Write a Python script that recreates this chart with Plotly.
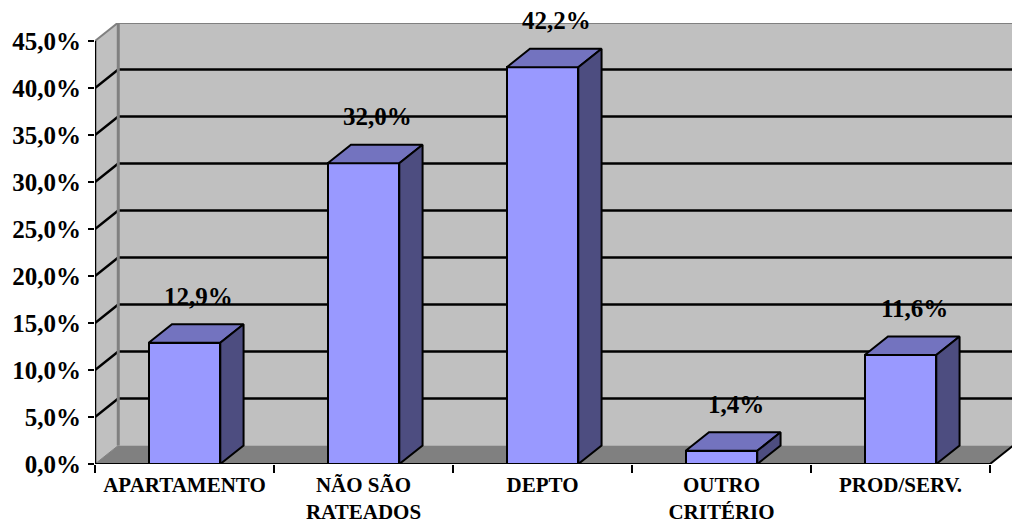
import plotly.graph_objects as go

categories = ["APARTAMENTO", "NÃO SÃO<br>RATEADOS", "DEPTO", "OUTRO<br>CRITÉRIO", "PROD/SERV."]
values = [12.9, 32.0, 42.2, 1.4, 11.6]
value_labels = ["12,9%", "32,0%", "42,2%", "1,4%", "11,6%"]
y_ticks = [0, 5, 10, 15, 20, 25, 30, 35, 40, 45]
y_ticklabels = ["0,0%", "5,0%", "10,0%", "15,0%", "20,0%", "25,0%", "30,0%", "35,0%", "40,0%", "45,0%"]

FONT = "Liberation Serif"
FRONT = "#9999FF"
TOP = "#7373BF"
SIDE = "#4D4D80"
WALL = "#C0C0C0"
FLOOR = "#808080"

n = len(categories)
DX = 0.13      # depth offset in category units
DY = 1.97      # depth offset in percent units
HW = 0.2       # bar half width
YMAX = 45
x0, x1 = -0.5, n - 0.5

fig = go.Figure()
shapes = []

def poly(pts):
    return "M " + " L ".join(f"{x},{y}" for x, y in pts) + " Z"

# back wall
shapes.append(dict(type="path", xref="x", yref="y", layer="below",
                   path=poly([(x0 + DX, DY), (x1 + DX, DY), (x1 + DX, YMAX + DY), (x0 + DX, YMAX + DY)]),
                   fillcolor=WALL, line=dict(width=0)))
# left wall
shapes.append(dict(type="path", xref="x", yref="y", layer="below",
                   path=poly([(x0, 0), (x0 + DX, DY), (x0 + DX, YMAX + DY), (x0, YMAX)]),
                   fillcolor=WALL, line=dict(width=0)))
# floor
shapes.append(dict(type="path", xref="x", yref="y", layer="below",
                   path=poly([(x0, 0), (x1, 0), (x1 + DX, DY), (x0 + DX, DY)]),
                   fillcolor=FLOOR, line=dict(width=0)))
# gridlines
for v in y_ticks[1:-1]:
    shapes.append(dict(type="line", xref="x", yref="y", layer="below",
                       x0=x0 + DX, y0=v + DY, x1=x1 + DX, y1=v + DY,
                       line=dict(color="black", width=2.5)))
    shapes.append(dict(type="line", xref="x", yref="y", layer="below",
                       x0=x0, y0=v, x1=x0 + DX, y1=v + DY,
                       line=dict(color="black", width=2.5)))
# wall edges (gray)
shapes.append(dict(type="line", xref="x", yref="y", layer="below",
                   x0=x0 + DX, y0=DY, x1=x0 + DX, y1=YMAX + DY, line=dict(color=FLOOR, width=3)))
shapes.append(dict(type="line", xref="x", yref="y", layer="below",
                   x0=x0 + DX, y0=YMAX + DY, x1=x1 + DX + 0.05, y1=YMAX + DY, line=dict(color=FLOOR, width=3)))
shapes.append(dict(type="line", xref="x", yref="y", layer="below",
                   x0=x0, y0=YMAX, x1=x0 + DX, y1=YMAX + DY, line=dict(color=FLOOR, width=2)))
shapes.append(dict(type="line", xref="x", yref="y", layer="below",
                   x0=x0, y0=0, x1=x0 + DX, y1=DY, line=dict(color=FLOOR, width=1)))
# front axis lines
shapes.append(dict(type="line", xref="x", yref="y", layer="above",
                   x0=x0, y0=0, x1=x1, y1=0, line=dict(color="black", width=2)))
shapes.append(dict(type="line", xref="x", yref="y", layer="above",
                   x0=x1, y0=0, x1=x1 + DX, y1=DY, line=dict(color="black", width=2)))
shapes.append(dict(type="line", xref="x", yref="y", layer="above",
                   x0=x0, y0=0, x1=x0, y1=YMAX, line=dict(color="black", width=2.5)))

# bars: front faces
xs = list(range(n))
fig.add_trace(go.Bar(x=xs, y=values, width=2 * HW, marker=dict(color=FRONT, line=dict(color="black", width=2)),
                     hoverinfo="skip", showlegend=False))
# top and side faces
for i, v in enumerate(values):
    top = [(i - HW, v), (i + HW, v), (i + HW + DX, v + DY), (i - HW + DX, v + DY), (i - HW, v)]
    side = [(i + HW, 0), (i + HW + DX, DY), (i + HW + DX, v + DY), (i + HW, v), (i + HW, 0)]
    for pts, col in ((top, TOP), (side, SIDE)):
        fig.add_trace(go.Scatter(x=[p[0] for p in pts], y=[p[1] for p in pts], mode="lines",
                                 fill="toself", fillcolor=col, line=dict(color="black", width=2),
                                 hoverinfo="skip", showlegend=False, cliponaxis=False))

annotations = []
for i, (v, lab) in enumerate(zip(values, value_labels)):
    annotations.append(dict(x=i + 0.08, y=v + DY, xref="x", yref="y", text=lab,
                            showarrow=False, yshift=28, yanchor="middle",
                            font=dict(family=FONT, size=25, color="black", weight="bold")))

fig.update_layout(
    width=1012, height=524,
    margin=dict(l=95, r=0, t=23, b=60),
    paper_bgcolor="white", plot_bgcolor="white",
    shapes=shapes, annotations=annotations,
    bargap=0,
    xaxis=dict(range=[x0, x0 + 917 / 179], tickvals=xs, ticktext=categories,
               showgrid=False, zeroline=False, showline=False, ticks="",
               tickfont=dict(family=FONT, size=21, color="black", weight="bold"), ticklabelstandoff=6),
    yaxis=dict(range=[0, 441 / 9.4], tickvals=y_ticks, ticktext=y_ticklabels,
               showgrid=False, zeroline=False, showline=False, ticks="outside", ticklen=6,
               tickwidth=2, tickcolor="black", ticklabelstandoff=2,
               tickfont=dict(family=FONT, size=25, color="black", weight="bold")),
)

fig.update_xaxes(minor=dict(tickvals=[k - 0.5 for k in range(n + 1)], ticks="outside", ticklen=8,
                            tickwidth=2, tickcolor="black"))

fig.write_html("out.html")
